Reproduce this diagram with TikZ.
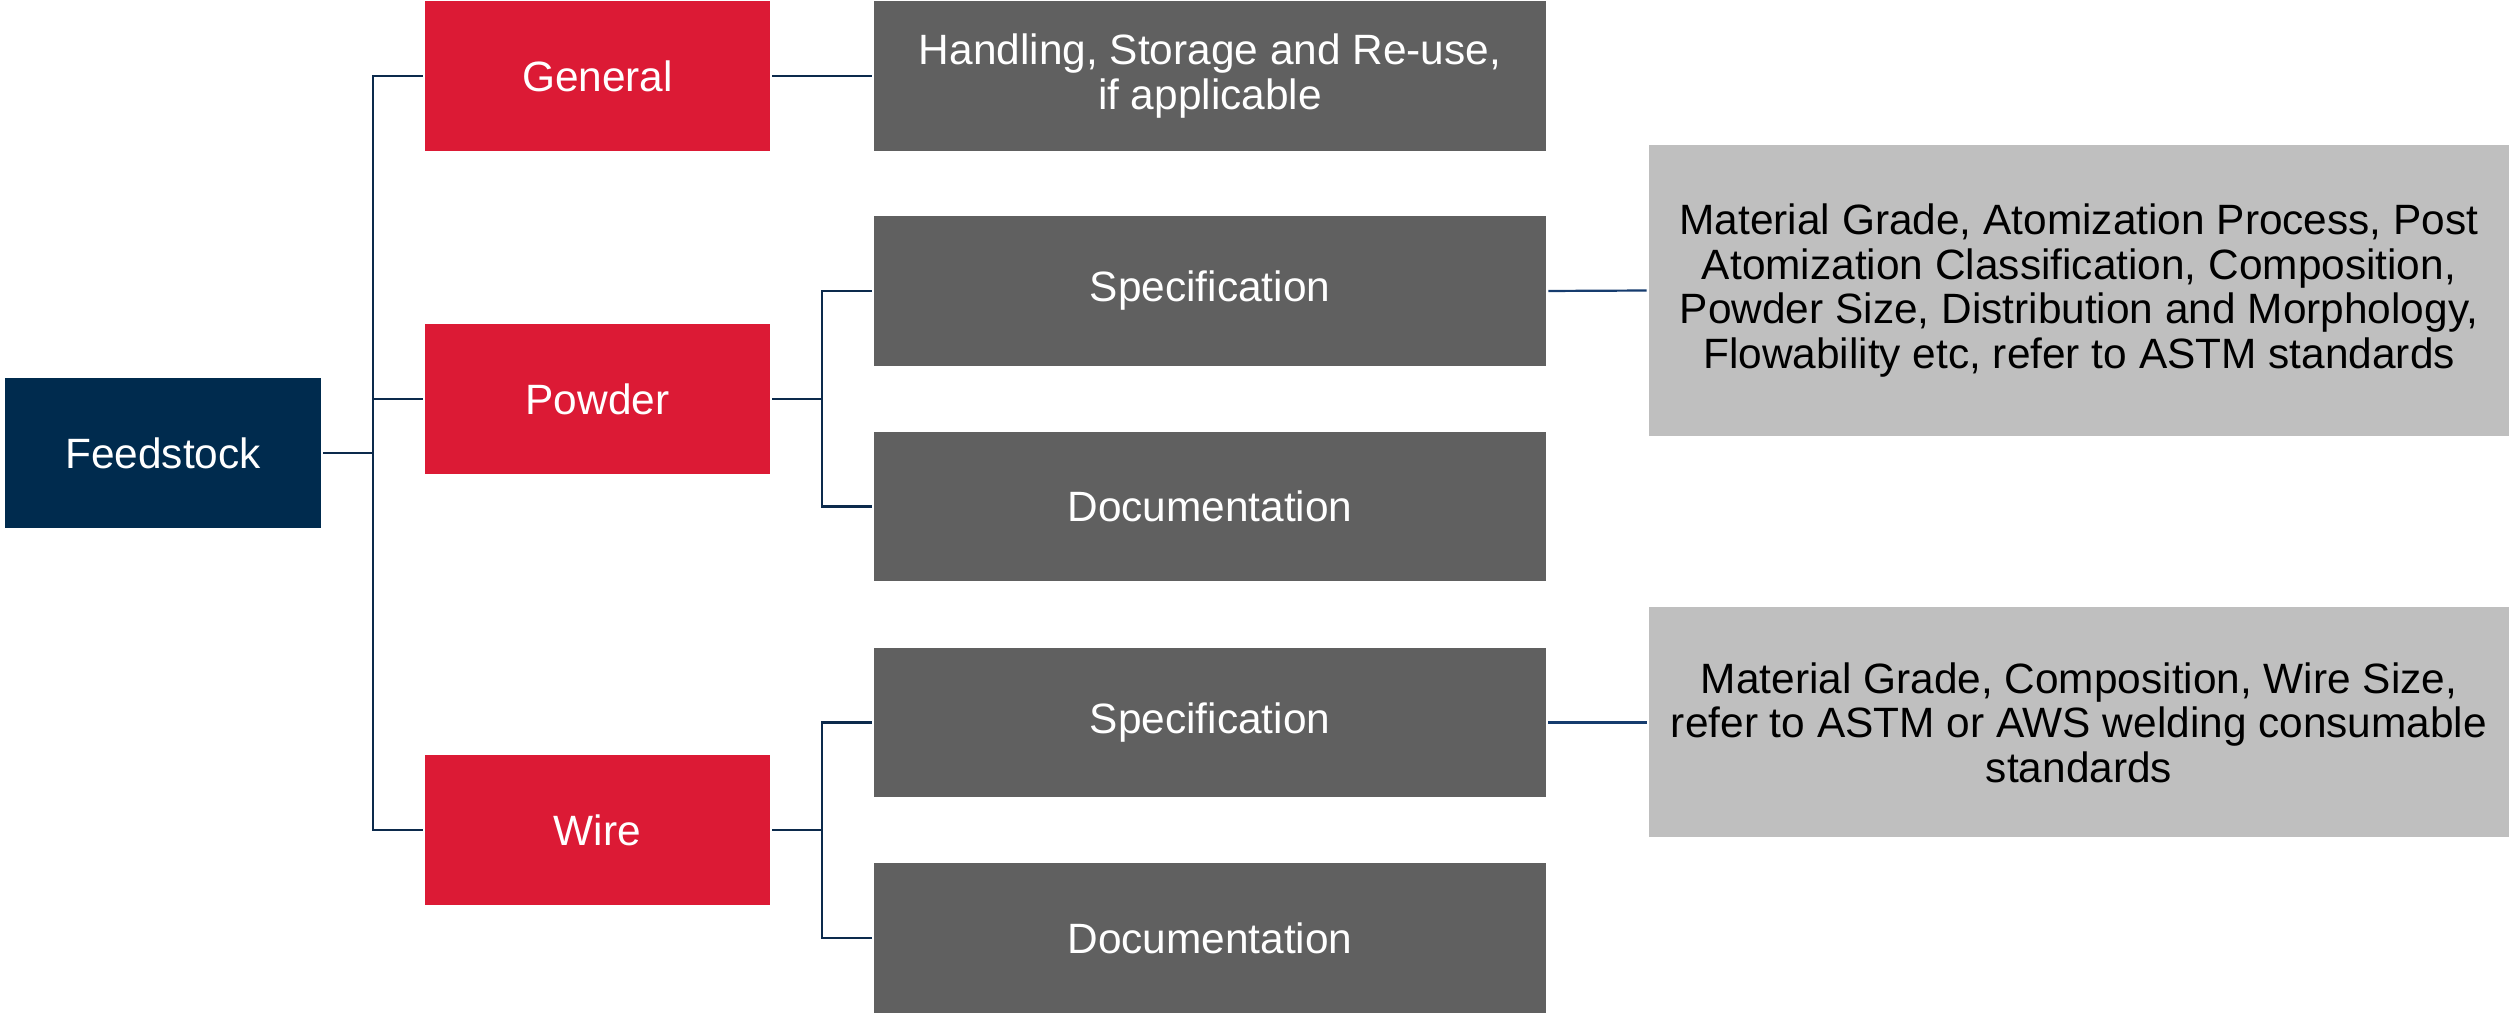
\documentclass[tikz,border=0pt]{standalone}
\usepackage{fontspec}
\setmainfont{Liberation Sans}
\definecolor{navy}{RGB}{0,43,78}
\definecolor{linenavy}{RGB}{12,42,76}
\definecolor{lineblue}{RGB}{22,60,110}
\definecolor{redbox}{RGB}{220,26,53}
\definecolor{darkbox}{RGB}{96,96,96}
\definecolor{lightbox}{RGB}{191,191,191}
\tikzset{
  base/.style={inner sep=0pt, outer sep=0pt, align=center,
    font=\fontsize{10.6pt}{11.1pt}\selectfont},
  rootbox/.style={base, fill=navy, text=white, minimum width=79pt, minimum height=37.5pt},
  catbox/.style={base, fill=redbox, text=white, minimum width=86.25pt, minimum height=37.5pt},
  itembox/.style={base, fill=darkbox, text=white, minimum width=168pt, minimum height=37.4pt},
  notebox/.style={base, fill=lightbox, text=black, minimum width=215pt},
  conn/.style={draw=linenavy, line width=0.55pt, shorten <=0.6pt, shorten >=0.6pt},
  noteconn/.style={draw=lineblue, line width=0.55pt, shorten <=0.6pt, shorten >=0.6pt},
  trunk/.style={draw=linenavy, line width=0.55pt, shorten <=0.6pt}
}
\begin{document}
\begin{tikzpicture}[x=0.25pt, y=-0.25pt]
\useasboundingbox (0,0) rectangle (2509,1015);
% nodes
\node[rootbox] (feed) at (163,453) {Feedstock};
\node[catbox] (gen) at (597.5,76) {General};
\node[catbox] (pow) at (597.5,399) {Powder};
\node[catbox] (wire) at (597.5,830) {Wire};
\node[itembox] (hand) at (1210,76) {Handling, Storage and Re-use,\\if applicable};
\node[itembox] (spec1) at (1210,291) {Specification};
\node[itembox] (doc1) at (1210,506.5) {Documentation};
\node[itembox] (spec2) at (1210,722.5) {Specification};
\node[itembox] (doc2) at (1210,938) {Documentation};
\node[notebox, minimum height=72.75pt] (g1) at (2079,290.5)
  {Material Grade, Atomization Process, Post\\Atomization Classification, Composition,\\Powder Size, Distribution and Morphology,\\Flowability etc, refer to ASTM standards};
\node[notebox, minimum height=57.5pt] (g2) at (2079,722.5)
  {Material Grade, Composition, Wire Size,\\refer to ASTM or AWS welding consumable\\standards};
% junction coordinates
\coordinate (t) at (373,453);
\coordinate (pb) at (822,399);
\coordinate (wb) at (822,830);
% connectors
\draw[trunk] (feed.east) -- (t);
\draw[trunk] (gen.west) -| (t);
\draw[trunk] (wire.west) -| (t);
\draw[trunk] (pow.west) -- (pow.west -| t);
\draw[conn] (gen.east) -- (hand.west);
\draw[trunk] (pow.east) -- (pb);
\draw[trunk] (spec1.west) -| (pb);
\draw[trunk] (doc1.west) -| (pb);
\draw[trunk] (wire.east) -- (wb);
\draw[trunk] (spec2.west) -| (wb);
\draw[trunk] (doc2.west) -| (wb);
\draw[noteconn] (spec1.east) -- (g1.west);
\draw[noteconn] (spec2.east) -- (g2.west);
\end{tikzpicture}
\end{document}
